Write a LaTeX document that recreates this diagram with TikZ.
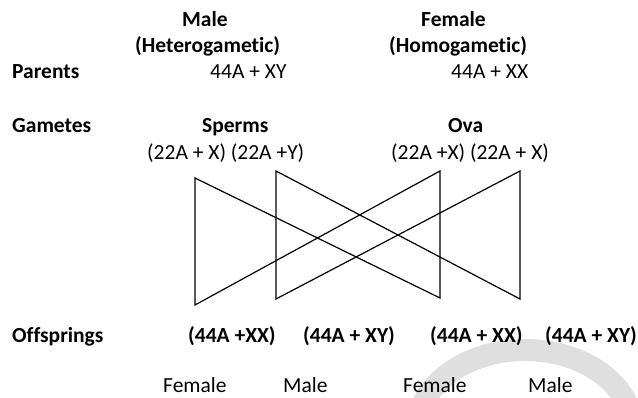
\documentclass[tikz,border=0pt]{standalone}
\usepackage{fontspec}
\setmainfont[Ligatures={NoCommon}]{Carlito}
\begin{document}
\begin{tikzpicture}[x=1pt,y=-1pt,
  lbl/.style={anchor=base west,inner sep=0pt,font=\fontsize{21.5}{24}\selectfont},
  blbl/.style={lbl,font=\fontsize{21.5}{24}\selectfont\bfseries},
  cross/.style={line width=1.2pt,black,line join=miter}]
\useasboundingbox (0,0) rectangle (638,398);
\fill[white] (0,0) rectangle (638,398);
% watermark arch
\draw[line width=22pt,gray!25] (417,430) arc[start angle=180,end angle=360,x radius=108,y radius=80];
% header texts
\node[blbl] (male) at (182,27) {Male};
\node[blbl] (het) at (135,53) {(Heterogametic)};
\node[blbl] (parents) at (12,79) {Parents};
\node[lbl] (pxy) at (210,79) {44A + XY};
\node[blbl] (female) at (421,27) {Female};
\node[blbl] (hom) at (389,53) {(Homogametic)};
\node[lbl] (pxx) at (451,79) {44A + XX};
\node[blbl] (gam) at (12,133) {Gametes};
\node[blbl] (sperm) at (202,133) {Sperms};
\node[blbl] (ova) at (448,133) {Ova};
\node[lbl] (sp) at (147,160) {(22A + X) (22A +Y)};
\node[lbl] (ov) at (391,160) {(22A +X) (22A + X)};
% offspring
\node[blbl] (off) at (12,343) {Offsprings};
\node[blbl] (o1) at (188,343) {(44A +XX)};
\node[blbl] (o2) at (303,343) {(44A + XY)};
\node[blbl] (o3) at (430,343) {(44A + XX)};
\node[blbl] (o4) at (545,343) {(44A + XY)};
\node[lbl] (s1) at (163,392) {Female};
\node[lbl] (s2) at (283,392) {Male};
\node[lbl] (s3) at (403,392) {Female};
\node[lbl] (s4) at (528,392) {Male};
% crossing lines
\coordinate (a1) at (195,178); \coordinate (a2) at (195,305);
\coordinate (b1) at (276,171); \coordinate (b2) at (276,299);
\coordinate (c1) at (440,171); \coordinate (c2) at (440,298);
\coordinate (d1) at (520,171); \coordinate (d2) at (520,299);
\draw[cross] (a1) -- (a2) -- (c1) -- (c2) -- cycle;
\draw[cross] (b1) -- (b2) -- (d1) -- (d2) -- cycle;
\end{tikzpicture}
\end{document}
